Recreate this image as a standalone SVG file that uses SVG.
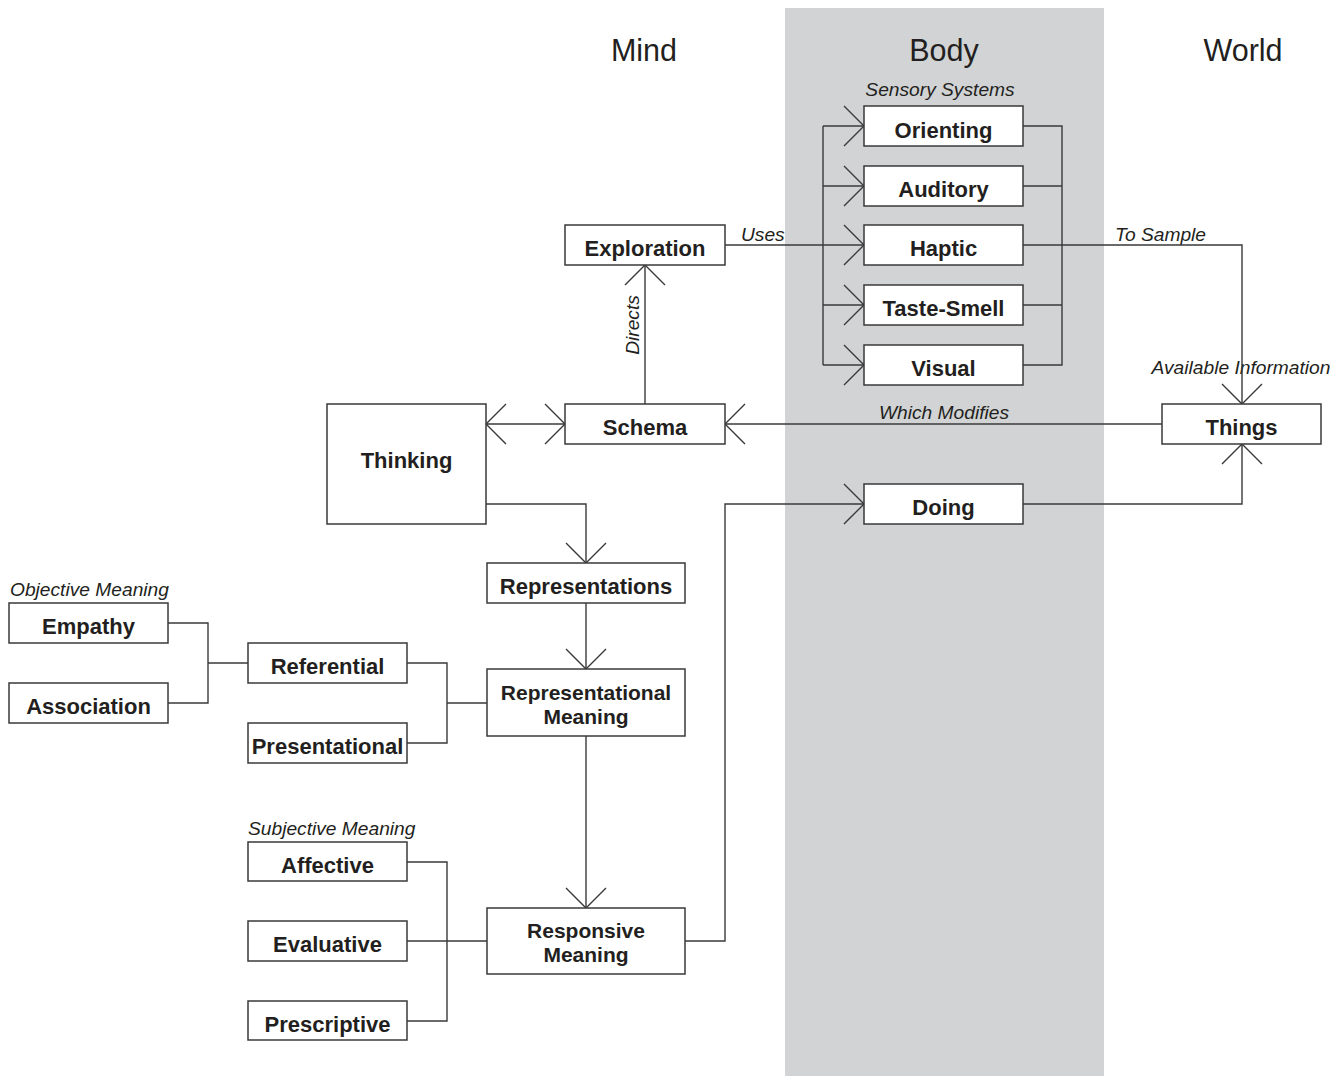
<svg xmlns="http://www.w3.org/2000/svg" width="1344" height="1076" viewBox="0 0 1344 1076">
<style>
.box{fill:#fff;stroke:#3a3a3a;stroke-width:1.5}
.ln{fill:none;stroke:#3a3a3a;stroke-width:1.4}
.lbl{font-family:"Liberation Sans",Arial,sans-serif;font-weight:bold;font-size:22px;fill:#231f20;text-anchor:middle}
.lbl2{font-family:"Liberation Sans",Arial,sans-serif;font-weight:bold;font-size:21px;fill:#231f20;text-anchor:middle}
.it{font-family:"Liberation Sans",Arial,sans-serif;font-style:italic;font-size:19.2px;fill:#231f20}
.hd{font-family:"Liberation Sans",Arial,sans-serif;font-size:30.5px;fill:#231f20;text-anchor:middle}
</style>
<defs>
<marker id="arr" markerUnits="userSpaceOnUse" markerWidth="24" markerHeight="44" viewBox="0 0 24 44" refX="21" refY="22" orient="auto-start-reverse" overflow="visible">
<path d="M1,2 L21,22 L1,42" fill="none" stroke="#3a3a3a" stroke-width="1.4"/>
</marker>
</defs>
<rect x="785" y="8" width="319" height="1068" fill="#d1d3d4"/>
<text class="hd" x="644" y="61">Mind</text>
<text class="hd" x="944" y="61">Body</text>
<text class="hd" x="1243" y="61">World</text>
<text class="it" x="940" y="96" text-anchor="middle">Sensory Systems</text>
<text class="it" x="10" y="596">Objective Meaning</text>
<text class="it" x="248" y="835">Subjective Meaning</text>
<text class="it" x="741" y="241">Uses</text>
<text class="it" x="1115" y="241">To Sample</text>
<text class="it" x="1241" y="374" text-anchor="middle">Available Information</text>
<text class="it" x="944" y="419" text-anchor="middle">Which Modifies</text>
<text class="it" transform="translate(639,325) rotate(-90)" text-anchor="middle">Directs</text>
<g id="connectors">
<path class="ln" d="M823,126 V365"/>
<path class="ln" d="M823,126 H864" marker-end="url(#arr)"/>
<path class="ln" d="M823,186 H864" marker-end="url(#arr)"/>
<path class="ln" d="M725,245 H864" marker-end="url(#arr)"/>
<path class="ln" d="M823,305 H864" marker-end="url(#arr)"/>
<path class="ln" d="M823,365 H864" marker-end="url(#arr)"/>
<path class="ln" d="M1023,126 H1062 V365 H1023 M1023,186 H1062 M1023,305 H1062"/>
<path class="ln" d="M1023,245 H1242 V404" marker-end="url(#arr)"/>
<path class="ln" d="M645,404 V265" marker-end="url(#arr)"/>
<path class="ln" d="M486,424 H565" marker-start="url(#arr)" marker-end="url(#arr)"/>
<path class="ln" d="M1162,424 H725" marker-end="url(#arr)"/>
<path class="ln" d="M486,504 H586 V563" marker-end="url(#arr)"/>
<path class="ln" d="M586,603 V669" marker-end="url(#arr)"/>
<path class="ln" d="M586,736 V908" marker-end="url(#arr)"/>
<path class="ln" d="M685,941 H725 V504 H864" marker-end="url(#arr)"/>
<path class="ln" d="M1023,504 H1242 V444" marker-end="url(#arr)"/>
<path class="ln" d="M168,623 H208 V703 H168 M208,663 H248"/>
<path class="ln" d="M407,663 H447 V743 H407 M447,703 H487"/>
<path class="ln" d="M407,862 H447 V1021 H407 M407,941 H487"/>
</g>
<g id="orienting"><rect class="box" x="864" y="106" width="159" height="40"/><text class="lbl" x="943.5" y="138">Orienting</text></g>
<g id="auditory"><rect class="box" x="864" y="166" width="159" height="40"/><text class="lbl" x="943.5" y="197">Auditory</text></g>
<g id="haptic"><rect class="box" x="864" y="225" width="159" height="40"/><text class="lbl" x="943.5" y="256">Haptic</text></g>
<g id="taste-smell"><rect class="box" x="864" y="285" width="159" height="40"/><text class="lbl" x="943.5" y="316">Taste-Smell</text></g>
<g id="visual"><rect class="box" x="864" y="345" width="159" height="40"/><text class="lbl" x="943.5" y="376">Visual</text></g>
<g id="exploration"><rect class="box" x="565" y="225" width="160" height="40"/><text class="lbl" x="645" y="256">Exploration</text></g>
<g id="schema"><rect class="box" x="565" y="404" width="160" height="40"/><text class="lbl" x="645" y="435">Schema</text></g>
<g id="thinking"><rect class="box" x="327" y="404" width="159" height="120"/><text class="lbl" x="406.5" y="468">Thinking</text></g>
<g id="things"><rect class="box" x="1162" y="404" width="159" height="40"/><text class="lbl" x="1241.5" y="435">Things</text></g>
<g id="doing"><rect class="box" x="864" y="484" width="159" height="40"/><text class="lbl" x="943.5" y="515">Doing</text></g>
<g id="representations"><rect class="box" x="487" y="563" width="198" height="40"/><text class="lbl" x="586" y="594">Representations</text></g>
<g id="representational-meaning"><rect class="box" x="487" y="669" width="198" height="67"/><text class="lbl2" x="586" y="700">Representational</text><text class="lbl2" x="586" y="724">Meaning</text></g>
<g id="responsive-meaning"><rect class="box" x="487" y="908" width="198" height="66"/><text class="lbl2" x="586" y="938">Responsive</text><text class="lbl2" x="586" y="962">Meaning</text></g>
<g id="empathy"><rect class="box" x="9" y="603" width="159" height="40"/><text class="lbl" x="88.5" y="634">Empathy</text></g>
<g id="association"><rect class="box" x="9" y="683" width="159" height="40"/><text class="lbl" x="88.5" y="714">Association</text></g>
<g id="referential"><rect class="box" x="248" y="643" width="159" height="40"/><text class="lbl" x="327.5" y="674">Referential</text></g>
<g id="presentational"><rect class="box" x="248" y="723" width="159" height="40"/><text class="lbl" x="327.5" y="754">Presentational</text></g>
<g id="affective"><rect class="box" x="248" y="842" width="159" height="39"/><text class="lbl" x="327.5" y="873">Affective</text></g>
<g id="evaluative"><rect class="box" x="248" y="921" width="159" height="40"/><text class="lbl" x="327.5" y="952">Evaluative</text></g>
<g id="prescriptive"><rect class="box" x="248" y="1001" width="159" height="39"/><text class="lbl" x="327.5" y="1032">Prescriptive</text></g>
</svg>
